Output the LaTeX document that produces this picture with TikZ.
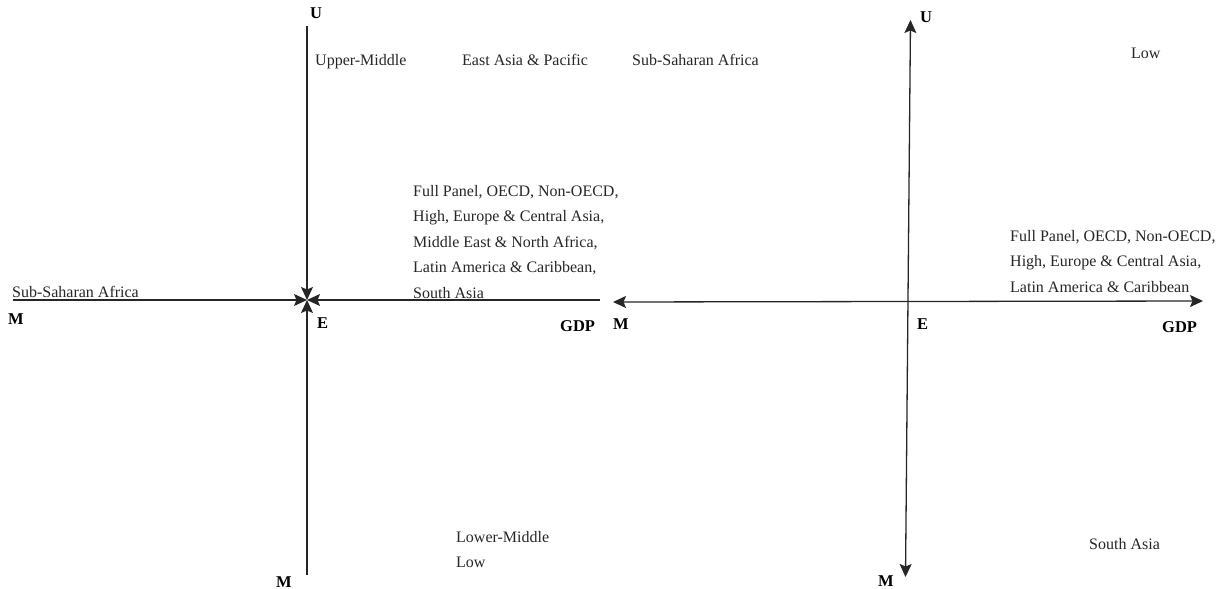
\documentclass[tikz,border=0pt]{standalone}
\usepackage{fontspec}
\setmainfont{Liberation Serif}
\usepackage{tikz}
\usetikzlibrary{arrows.meta,positioning}

\tikzset{
  axis/.style={line width=1.3pt, draw=black!85},
  tip/.style={-{Stealth[length=13pt,width=12pt,inset=2.5pt]}},
  twotip/.style={{Stealth[length=13pt,width=12pt,inset=2.5pt]}-{Stealth[length=13pt,width=12pt,inset=2.5pt]}},
  grp/.style={text=black!85, inner sep=0pt, font=\fontsize{16}{25.5}\selectfont, align=left},
  axlbl/.style={text=black, inner sep=0pt, font=\fontsize{16.5}{19}\selectfont\bfseries}
}

\begin{document}
\begin{tikzpicture}[x=1pt,y=-1pt]
    \useasboundingbox (0,0) rectangle (1221,589);

    % Left: all paths point into E
    \coordinate (lE) at (307,300);
    \coordinate (lU) at (307,26);
    \coordinate (lMb) at (307,575);
    \coordinate (lMl) at (13,300);
    \coordinate (lGDP) at (600,300);
    \draw[axis,tip] (lU) -- (lE);
    \draw[axis,tip] (lMb) -- (lE);
    \draw[axis,tip] (lMl) -- (lE);
    \draw[axis,tip] (lGDP) -- (lE);

    \node[axlbl,anchor=base west] (lUlbl) at (310,18) {U};
    \node[axlbl,anchor=base west] (lEl) at (317,328) {E};
    \node[axlbl,anchor=base west] (lMleft) at (8,324) {M};
    \node[axlbl,anchor=base west] (lMbot) at (276,587) {M};
    \node[axlbl,anchor=base west] (lGDPl) at (560,331) {GDP};

    \node[grp,anchor=base west] (upmid) at (315,65) {Upper-Middle};
    \node[grp,anchor=base west] (eap) at (462,65) {East Asia \& Pacific};
    \node[grp,anchor=base west] (ssaU) at (632,65) {Sub-Saharan Africa};
    \node[grp,anchor=base west] (ssaL) at (12,297) {Sub-Saharan Africa};
    \node[grp,anchor=north west] (lpanel) at (413,185)
      {Full Panel, OECD, Non-OECD,\\High, Europe \& Central Asia,\\Middle East \& North Africa,\\Latin America \& Caribbean,\\South Asia};
    \node[grp,anchor=north west] (lowmid) at (456,531) {Lower-Middle\\Low};

    % Right: paths point away from E
    \coordinate (rU) at (910.5,20);
    \coordinate (rMb) at (905.5,577);
    \coordinate (rMl) at (613,302);
    \coordinate (rGDP) at (1203,301);
    \draw[axis,twotip] (rMl) -- (rGDP);
    \draw[axis,twotip] (rU) -- (rMb);

    \node[axlbl,anchor=base west] (rUlbl) at (920,23) {U};
    \node[axlbl,anchor=base west] (rEl) at (917,329) {E};
    \node[axlbl,anchor=base west] (rMleft) at (613,329) {M};
    \node[axlbl,anchor=base west] (rMbot) at (878,586) {M};
    \node[axlbl,anchor=base west] (rGDPl) at (1162,332) {GDP};

    \node[grp,anchor=base west] (rlow) at (1131,58) {Low};
    \node[grp,anchor=north west] (rpanel) at (1010,230)
      {Full Panel, OECD, Non-OECD,\\High, Europe \& Central Asia,\\Latin America \& Caribbean};
    \node[grp,anchor=base west] (rsa) at (1089,549) {South Asia};
\end{tikzpicture}
\end{document}
